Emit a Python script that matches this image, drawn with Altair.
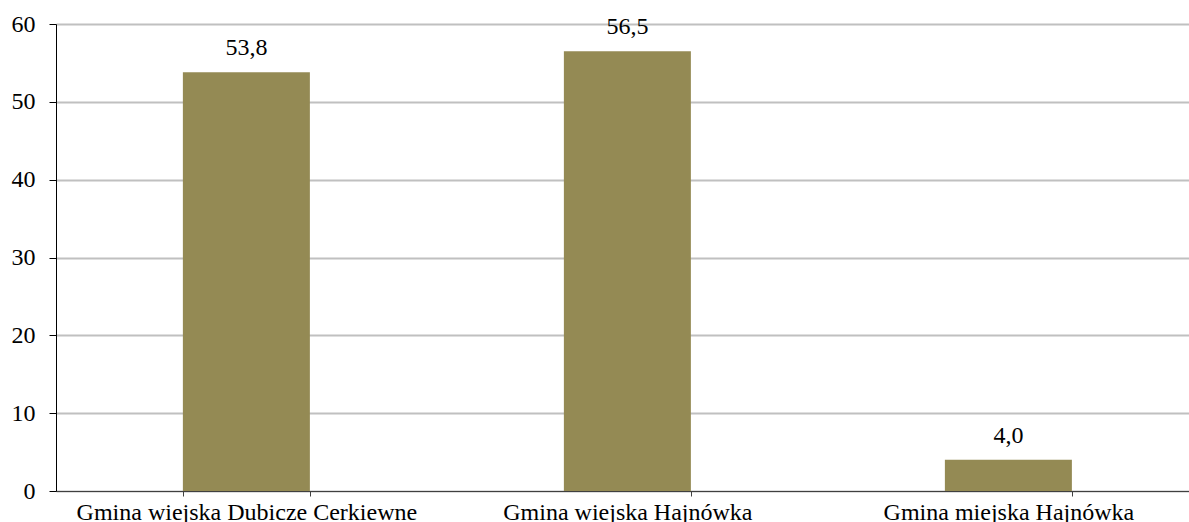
import altair as alt
import pandas as pd

# Share (%) per commune
gminy = [
    "Gmina wiejska Dubicze Cerkiewne",
    "Gmina wiejska Hajnówka",
    "Gmina miejska Hajnówka",
]
udzial = [53.8, 56.5, 4.0]

df = pd.DataFrame({"gmina": gminy, "udzial": udzial})

FONT = "'Liberation Serif', 'Times New Roman', serif"
SIZE = 24
BAR = "#948A54"

x = alt.X(
    "gmina:N",
    sort=gminy,
    title=None,
    scale=alt.Scale(paddingInner=2 / 3, paddingOuter=0.3202, align=0.52),
    axis=alt.Axis(
        labelAngle=0,
        labelFont=FONT,
        labelFontSize=SIZE,
        labelColor="#000000",
        labelBaseline="alphabetic",
        labelPadding=23,
        labelLimit=0,
        tickBand="extent",
        tickSize=5,
        tickColor="#404040",
        domainColor="#404040",
        domainWidth=1,
        grid=False,
    ),
)

y = alt.Y(
    "udzial:Q",
    title=None,
    scale=alt.Scale(domain=[0, 60], nice=False),
    axis=alt.Axis(
        values=[0, 10, 20, 30, 40, 50, 60],
        labelFont=FONT,
        labelFontSize=SIZE,
        labelColor="#000000",
        labelPadding=14,
        tickSize=7,
        tickColor="#000000",
        domainColor="#000000",
        gridColor="#C0C0C0",
        gridWidth=2,
    ),
)

bars = alt.Chart(df).mark_bar(color=BAR).encode(x=x, y=y)

labels = (
    alt.Chart(df)
    .transform_calculate(txt="replace(format(datum.udzial, '.1f'), '.', ',')")
    .mark_text(font=FONT, fontSize=SIZE, color="#000000", baseline="alphabetic", dy=-17)
    .encode(x=x, y=y, text="txt:N")
)

chart = (
    alt.layer(bars, labels)
    .properties(
        width=1133,
        height=467,
        autosize=alt.AutoSizeParams(type="none"),
        padding={"left": 56, "top": 24, "right": 0, "bottom": 31},
    )
    .configure_view(stroke=None)
    .configure(background="#ffffff")
)

chart.save("out.html", embed_options={"renderer": "svg", "actions": False})
